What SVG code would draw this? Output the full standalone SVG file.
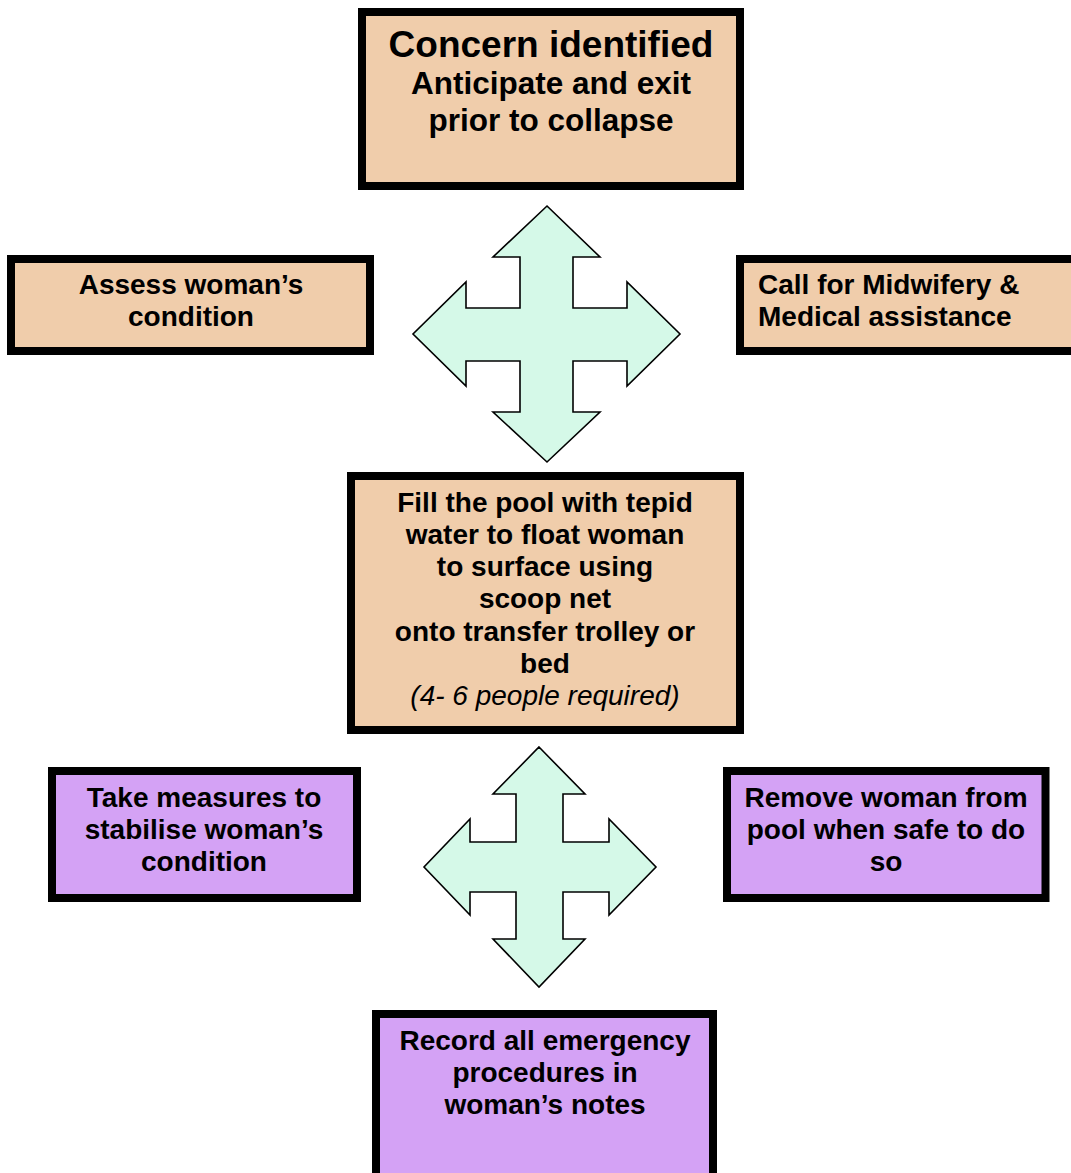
<svg xmlns="http://www.w3.org/2000/svg" width="1071" height="1173" viewBox="0 0 1071 1173">
<style>
.box{stroke:#000;stroke-width:8}
.peach{fill:#f0cdab}
.purple{fill:#d4a2f5}
.arrow{fill:#d5f9e8;stroke:#000;stroke-width:1.6;stroke-linejoin:miter}
text{font-family:"Liberation Sans",Arial,sans-serif;font-weight:bold;font-size:28px;fill:#000}
.c{text-anchor:middle}
.big{font-size:37px}
.top{font-size:31.5px}
.it{font-weight:normal;font-style:italic}
</style>
<rect width="1071" height="1173" fill="#fff"/>
<g id="connectors">
<polygon class="arrow" points="547,206 600,257 573,257 573,308 627,308 627,282 680,334 627,386 627,361 573,361 573,412 600,412 547,462 493,412 520,412 520,361 466,361 466,386 413,334 466,282 466,308 520,308 520,257 493,257"/>
<polygon class="arrow" points="539,747 585,794 563,794 563,842 609,842 609,819 656,867 609,915 609,892 563,892 563,939 585,939 539,987 493,939 516,939 516,892 470,892 470,915 424,867 470,819 470,842 516,842 516,794 493,794"/>
</g>
<g id="concern">
<rect class="box peach" x="362" y="12" width="378" height="174" stroke-width="7"/>
<text class="c big" x="551" y="57">Concern identified</text>
<text class="c top" x="551" y="94">Anticipate and exit</text>
<text class="c top" x="551" y="131">prior to collapse</text>
</g>
<g id="assess">
<rect class="box peach" x="11" y="259" width="359" height="92"/>
<text class="c" x="191" y="294">Assess woman’s</text>
<text class="c" x="191" y="326">condition</text>
</g>
<g id="call">
<rect class="box peach" x="740" y="259" width="345" height="92"/>
<text x="758" y="294">Call for Midwifery &amp;</text>
<text x="758" y="326">Medical assistance</text>
</g>
<g id="fill">
<rect class="box peach" x="351" y="476" width="389" height="254"/>
<text class="c" x="545" y="512">Fill the pool with tepid</text>
<text class="c" x="545" y="544">water to float woman</text>
<text class="c" x="545" y="576">to surface using</text>
<text class="c" x="545" y="608">scoop net</text>
<text class="c" x="545" y="641">onto transfer trolley or</text>
<text class="c" x="545" y="673">bed</text>
<text class="c it" x="545" y="705">(4- 6 people required)</text>
</g>
<g id="stabilise">
<rect class="box purple" x="52" y="771" width="305" height="127"/>
<text class="c" x="204" y="807">Take measures to</text>
<text class="c" x="204" y="839">stabilise woman’s</text>
<text class="c" x="204" y="871">condition</text>
</g>
<g id="remove">
<rect class="box purple" x="727" y="771" width="318.5" height="127"/>
<text class="c" x="886" y="807">Remove woman from</text>
<text class="c" x="886" y="839">pool when safe to do</text>
<text class="c" x="886" y="871">so</text>
</g>
<g id="record">
<rect class="box purple" x="376" y="1014" width="337" height="200"/>
<text class="c" x="545" y="1050">Record all emergency</text>
<text class="c" x="545" y="1082">procedures in</text>
<text class="c" x="545" y="1114">woman’s notes</text>
</g>
</svg>
